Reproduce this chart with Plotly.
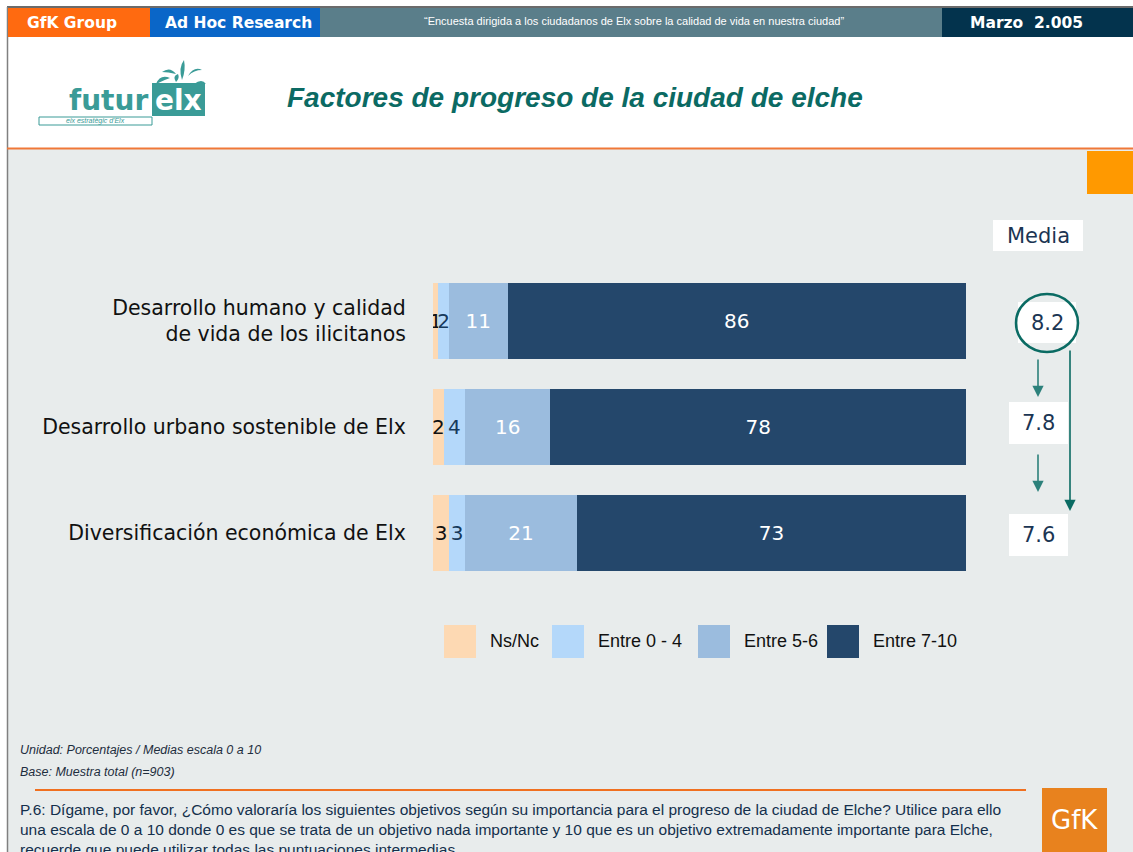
import plotly.graph_objects as go

# ---------------- data ----------------
categories = [
    "Desarrollo humano y calidad<br>de vida de los ilicitanos",
    "Desarrollo urbano sostenible de Elx",
    "Diversificación económica de Elx",
]
series_names = ["Ns/Nc", "Entre 0 - 4", "Entre 5-6", "Entre 7-10"]
ns_nc = [1, 2, 3]
entre_0_4 = [2, 4, 3]
entre_5_6 = [11, 16, 21]
entre_7_10 = [86, 78, 73]
medias = [8.2, 7.8, 7.6]

series_values = [ns_nc, entre_0_4, entre_5_6, entre_7_10]
series_colors = ["#FDD9B3", "#B4D8FA", "#9BBCDE", "#24476B"]
text_colors = ["#111111", "#173A5C", "#FFFFFF", "#FFFFFF"]

W, H = 1133, 852
FONT = "DejaVu Sans"
NAVY = "#1B3553"
TEAL = "#0A6B63"


def px(x):
    return x / W


def py(y):
    return 1 - y / H


shapes = []


def rect(x0, y0, x1, y1, fill, line_color=None, line_width=0, layer="below"):
    shapes.append(dict(
        type="rect", xref="paper", yref="paper",
        x0=px(x0), x1=px(x1), y0=py(y1), y1=py(y0),
        fillcolor=fill, layer=layer,
        line=dict(color=line_color or fill, width=line_width),
    ))


def line(x0, y0, x1, y1, color, width, layer="below"):
    shapes.append(dict(
        type="line", xref="paper", yref="paper",
        x0=px(x0), x1=px(x1), y0=py(y0), y1=py(y1),
        line=dict(color=color, width=width), layer=layer,
    ))


annotations = []


def text(x, y, s, size, color, family=FONT, xanchor="left", yanchor="middle",
         bold=False, italic=False, bgcolor=None, align="left"):
    t = s
    if bold:
        t = "<b>" + t + "</b>"
    if italic:
        t = "<i>" + t + "</i>"
    d = dict(
        x=px(x), y=py(y), xref="paper", yref="paper", text=t, showarrow=False,
        xanchor=xanchor, yanchor=yanchor, align=align,
        font=dict(family=family, size=size, color=color),
    )
    if bgcolor:
        d["bgcolor"] = bgcolor
    annotations.append(d)


# ---------------- slide background ----------------
rect(8, 149, W, H, "#E8ECEC")
line(7, 7, W, 7, "#3A3A3A", 1.5)
line(7.5, 7, 7.5, H, "#808080", 1.5)
# header band
rect(8, 8, 150, 37, "#FF6A10")
rect(150, 8, 320, 37, "#0A66C8")
rect(320, 8, 942, 37, "#5A7E8A")
rect(942, 8, W, 37, "#03334D")
text(72, 23, "GfK Group", 15.5, "white", family="DejaVu Sans", xanchor="center", bold=True)
text(238, 23, "Ad Hoc Research", 15.5, "white", family="DejaVu Sans", xanchor="center", bold=True)
text(634, 21, "“Encuesta dirigida a los ciudadanos de Elx sobre la calidad de vida en nuestra ciudad”",
     11, "white", family="Liberation Sans", xanchor="center")
text(1026, 23, "Marzo  2.005", 15.5, "white", family="DejaVu Sans", xanchor="center", bold=True)
# orange separator
line(7, 148.5, W, 148.5, "#F07838", 2)
# orange corner square
rect(1087, 151, W, 194, "#FF9900")

# logo
text(67, 101, "futur", 28, "#3A9B97", family="DejaVu Sans", bold=True)
rect(152, 83, 205, 116, "#3A9B97")
text(178.5, 100, "elx", 28, "white", family="DejaVu Sans", xanchor="center", bold=True)
rect(39, 117, 152, 125, "white", line_color="#3A9B97", line_width=1)
text(95, 121, "eix estratègic d'Elx", 7, "#3A9B97", family="Liberation Sans",
     xanchor="center", italic=True)
leaf_paths = [
    "M 156 84 Q 160 74 170 78 Q 164 80 156 84 Z",
    "M 162 72 Q 170 66 176 74 Q 168 72 162 72 Z",
    "M 182 80 Q 178 68 184 60 Q 186 70 182 80 Z",
    "M 188 76 Q 194 66 202 70 Q 194 70 188 76 Z",
    "M 194 84 Q 202 78 206 84 Q 200 82 194 84 Z",
    "M 176 82 Q 172 76 178 74 Q 180 78 176 82 Z",
]


def path_to_paper(p):
    toks = p.split()
    out = []
    i = 0
    while i < len(toks):
        t = toks[i]
        if t.isalpha():
            out.append(t)
            i += 1
        else:
            out.append(f"{px(float(toks[i])):.5f},{py(float(toks[i + 1])):.5f}")
            i += 2
    return " ".join(out)


for p in leaf_paths:
    shapes.append(dict(type="path", xref="paper", yref="paper", path=path_to_paper(p),
                       fillcolor="#3A9B97", line=dict(width=0), layer="below"))

# title
text(575, 97, "Factores de progreso de la ciudad de elche", 28, "#0B6A63",
     family="Liberation Sans", xanchor="center", bold=True, italic=True)

# ---------------- media column ----------------
rect(993, 220, 1083, 251, "white")
text(1038, 236, "Media", 21, NAVY, xanchor="center")

media_boxes = [(1018, 302, 1076, 343), (1009, 402, 1068, 444), (1009, 514, 1068, 556)]
for (x0, y0, x1, y1), m in zip(media_boxes, medias):
    rect(x0, y0, x1, y1, "white")
    text((x0 + x1) / 2, (y0 + y1) / 2, f"{m:.1f}", 21, NAVY, xanchor="center")
shapes.append(dict(type="circle", xref="paper", yref="paper",
                   x0=px(1016), x1=px(1078), y0=py(352), y1=py(294),
                   line=dict(color=TEAL, width=2.5), layer="above"))


def arrow(x, y_from, y_to, color):
    annotations.append(dict(
        x=px(x), y=py(y_to), xref="paper", yref="paper",
        ax=0, ay=-(y_to - y_from), axref="pixel", ayref="pixel",
        text="", showarrow=True, arrowhead=2, arrowsize=1.4, arrowwidth=1.6,
        arrowcolor=color,
    ))


arrow(1038, 358, 397, "#2C817B")
arrow(1038, 453, 492, "#2C817B")
arrow(1070, 349, 511, TEAL)

# ---------------- bars ----------------
fig = go.Figure()
for name, vals, col, tcol in zip(series_names, series_values, series_colors, text_colors):
    fig.add_trace(go.Bar(
        y=categories, x=vals, orientation="h", name=name,
        marker=dict(color=col, line=dict(width=0)),
        text=[str(v) for v in vals], textposition="inside",
        insidetextanchor="middle",
        textfont=dict(family=FONT, size=20, color=tcol),
        hoverinfo="skip",
    ))

# manual legend
legend_x = [444, 552, 698, 827]
for lx, name, col in zip(legend_x, series_names, series_colors):
    rect(lx, 625, lx + 32, 658, col)
    text(lx + 44, 641, name, 18, "#111111", family="Liberation Sans")

# ---------------- footer ----------------
text(18, 750, "Unidad: Porcentajes / Medias escala 0 a 10", 12.5, "#1E2E3E",
     family="Liberation Sans", italic=True)
text(18, 772, "Base: Muestra total (n=903)", 12.5, "#1E2E3E",
     family="Liberation Sans", italic=True)
line(35, 790, 1026, 790, "#F07020", 2)
annotations.append(dict(
    x=px(18), y=py(799), xref="paper", yref="paper", showarrow=False,
    xanchor="left", yanchor="top", align="left",
    text=("P.6: Dígame, por favor, ¿Cómo valoraría los siguientes objetivos según su importancia para el progreso de la ciudad de Elche? Utilice para ello<br>"
          "una escala de 0 a 10 donde 0 es que se trata de un objetivo nada importante y 10 que es un objetivo extremadamente importante para Elche,<br>"
          "recuerde que puede utilizar todas las puntuaciones intermedias"),
    font=dict(family="Liberation Sans", size=15.5, color="#14304C"),
))
rect(1042, 788, 1107, H, "#E8821E")
text(1074.5, 820, "GfK", 26, "white", family="DejaVu Sans", xanchor="center")

fig.update_layout(
    width=W, height=H,
    margin=dict(l=0, r=0, t=0, b=0),
    paper_bgcolor="white", plot_bgcolor="rgba(0,0,0,0)",
    barmode="stack", bargap=0.283, showlegend=False,
    uniformtext=dict(mode="show", minsize=20),
    xaxis=dict(domain=[px(433), px(966)], range=[0, 100], visible=False, fixedrange=True),
    yaxis=dict(domain=[py(586), py(268)], autorange="reversed", showgrid=False,
               showline=False, zeroline=False, ticks="outside", ticklen=22,
               tickcolor="rgba(0,0,0,0)",
               tickfont=dict(family=FONT, size=20.5, color="#111111")),
    shapes=shapes, annotations=annotations,
)

fig.write_html("out.html", post_script="document.body.style.margin='0';",
               config={"displayModeBar": False})
